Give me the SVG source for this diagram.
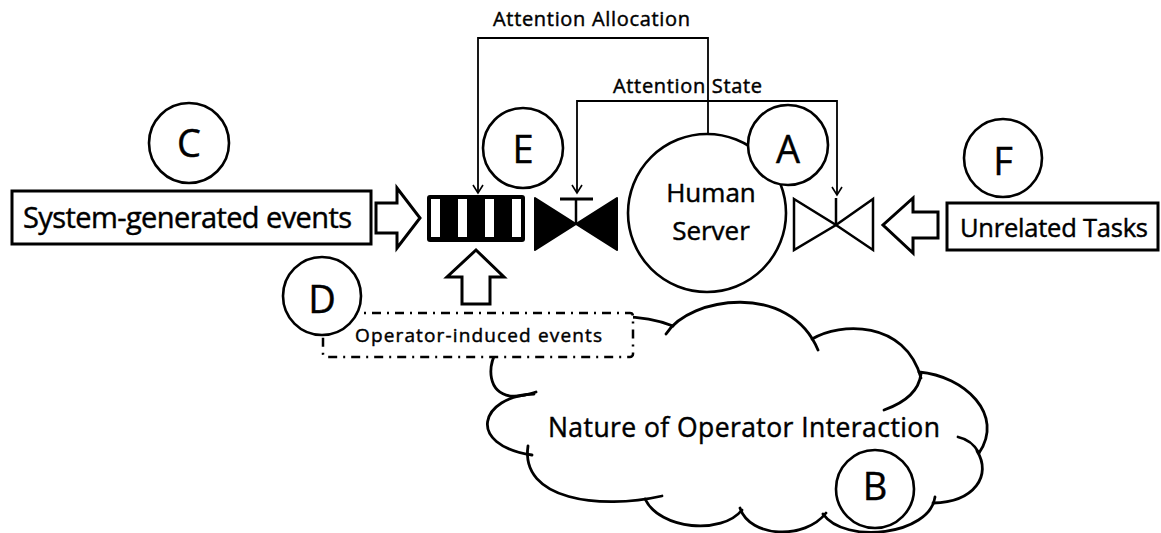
<svg xmlns="http://www.w3.org/2000/svg" width="1161" height="533" viewBox="0 0 1161 533">
  <style>
    .txt { font-family: "Open Sans", "Liberation Sans", sans-serif; fill: #000; stroke: #000; stroke-width: 0.45; }
    .lbl { font-size: 38px; text-anchor: middle; }
    .tag { fill: #fff; stroke: #000; stroke-width: 2.6; }
    .box { fill: #fff; stroke: #000; stroke-width: 3; }
    .wire { fill: none; stroke: #000; stroke-width: 1.8; }
    .block { fill: #fff; stroke: #000; stroke-width: 3; stroke-linejoin: miter; }
    .cloud { fill: none; stroke: #000; stroke-width: 2.8; stroke-linecap: round; }
  </style>
  <defs>
    <marker id="vhead" markerUnits="userSpaceOnUse" markerWidth="14" markerHeight="14" refX="0" refY="0" viewBox="-10 -7 12 14" orient="auto-start-reverse">
      <path d="M -8,-5 L 0,0 L -8,5" fill="none" stroke="#000" stroke-width="1.6"/>
    </marker>
  </defs>
  <rect width="1161" height="533" fill="#fff"/>

  <!-- operator interaction cloud -->
  <g id="node-cloud">
    <path class="cloud" d="M 615,317 Q 648,316 673,326"/>
    <path class="cloud" d="M 666,334 C 690,296 790,282 818,350"/>
    <path class="cloud" d="M 812,339 C 840,322 905,320 921,378"/>
    <path class="cloud" d="M 921,374 Q 918,398 884,410"/>
    <path class="cloud" d="M 919,372 C 965,376 1005,415 979,453"/>
    <path class="cloud" d="M 979,453 Q 972,440 958,437"/>
    <path class="cloud" d="M 977,451 C 992,475 975,502 933,503"/>
    <path class="cloud" d="M 935,497 C 930,535 845,545 823,514"/>
    <path class="cloud" d="M 826,513 C 805,540 750,538 740,508"/>
    <path class="cloud" d="M 742,510 C 722,535 660,530 645,499"/>
    <path class="cloud" d="M 528,446 C 520,500 600,510 662,496"/>
    <path class="cloud" d="M 534,394 C 480,396 465,445 532,455"/>
    <path class="cloud" d="M 497,350 C 487,368 488,392 510,396 Q 522,397 536,392"/>
    <text class="txt" x="548" y="437" font-size="26.5" textLength="392">Nature of Operator Interaction</text>
  </g>
  <g id="node-B">
    <circle class="tag" cx="875" cy="489" r="39"/>
    <text class="txt lbl" x="875" y="500">B</text>
  </g>

  <!-- operator-induced events (dash-dot box) -->
  <g id="node-operator-events">
    <rect x="323" y="313" width="310" height="44" rx="3" fill="#fff" stroke="#000" stroke-width="2.5" stroke-dasharray="9 6 2 6"/>
    <text class="txt" x="355" y="342" font-size="19" textLength="247">Operator-induced events</text>
  </g>
  <g id="node-D">
    <circle class="tag" cx="322" cy="296" r="39"/>
    <text class="txt lbl" x="322" y="313">D</text>
  </g>

  <!-- connectors -->
  <g id="connectors">
    <!-- attention allocation: server to queue -->
    <path class="wire" d="M 708,133 V 38 H 478 V 193" marker-end="url(#vhead)"/>
    <!-- attention state: to both valves -->
    <path class="wire" d="M 577,193 V 101 H 837 V 195" marker-start="url(#vhead)" marker-end="url(#vhead)"/>
    <!-- block flow arrows -->
    <polygon class="block" points="376,203 397,203 397,188 420,218 397,248 397,233 376,233"/>
    <polygon class="block" points="462,304 462,277 447,277 476,250 504,277 490,277 490,304"/>
    <polygon class="block" points="938,212 913,212 913,198 883,225 913,253 913,238 938,238"/>
  </g>

  <g id="node-C">
    <circle class="tag" cx="189" cy="143" r="40"/>
    <text class="txt lbl" x="189" y="157">C</text>
  </g>
  <g id="node-system-events">
    <rect class="box" x="12" y="191" width="359" height="53"/>
    <text class="txt" x="23" y="228" font-size="29" textLength="329">System-generated events</text>
  </g>

  <!-- event queue -->
  <g id="node-queue">
    <rect x="427" y="195" width="98" height="47" rx="3" fill="#000"/>
    <rect x="431" y="199" width="9" height="38" fill="#fff"/>
    <rect x="458" y="199" width="9" height="38" fill="#fff"/>
    <rect x="485" y="199" width="9" height="38" fill="#fff"/>
    <rect x="512" y="199" width="9" height="38" fill="#fff"/>
  </g>
  <g id="node-E">
    <circle class="tag" cx="523" cy="148" r="40"/>
    <text class="txt lbl" x="523" y="163">E</text>
  </g>

  <!-- valve governed by attention (closed) -->
  <g id="node-valve-attend">
    <polygon points="535,198 576,224 535,250" fill="#000" stroke="#000" stroke-width="2" stroke-linejoin="round"/>
    <polygon points="617,198 576,224 617,250" fill="#000" stroke="#000" stroke-width="2" stroke-linejoin="round"/>
    <line x1="560" y1="199" x2="593" y2="199" stroke="#000" stroke-width="3"/>
    <line x1="576" y1="199" x2="576" y2="224" stroke="#000" stroke-width="2.5"/>
  </g>

  <g id="node-human">
    <circle class="tag" cx="707" cy="213" r="79" stroke-width="3"/>
    <text class="txt" x="711" y="202" font-size="26" text-anchor="middle">Human</text>
    <text class="txt" x="711" y="240" font-size="26" text-anchor="middle">Server</text>
  </g>
  <g id="node-A">
    <circle class="tag" cx="788" cy="145" r="40"/>
    <text class="txt lbl" x="788" y="163">A</text>
  </g>

  <!-- valve for unrelated tasks (open) -->
  <g id="node-valve-unrelated">
    <polygon points="794,199 836,225 794,250" fill="#fff" stroke="#000" stroke-width="2.5" stroke-linejoin="miter"/>
    <polygon points="873,199 836,225 873,250" fill="#fff" stroke="#000" stroke-width="2.5" stroke-linejoin="miter"/>
    <line x1="836" y1="198" x2="836" y2="225" stroke="#000" stroke-width="2.5"/>
  </g>

  <g id="node-F">
    <circle class="tag" cx="1003" cy="158" r="39"/>
    <text class="txt lbl" x="1003" y="175">F</text>
  </g>
  <g id="node-unrelated-tasks">
    <rect class="box" x="947" y="203" width="211" height="47"/>
    <text class="txt" x="960" y="237" font-size="25.5" textLength="188">Unrelated Tasks</text>
  </g>

  <g id="labels">
    <text class="txt" x="493" y="26" font-size="20" textLength="197">Attention Allocation</text>
    <text class="txt" x="613" y="93" font-size="20" textLength="149">Attention State</text>
  </g>
</svg>
